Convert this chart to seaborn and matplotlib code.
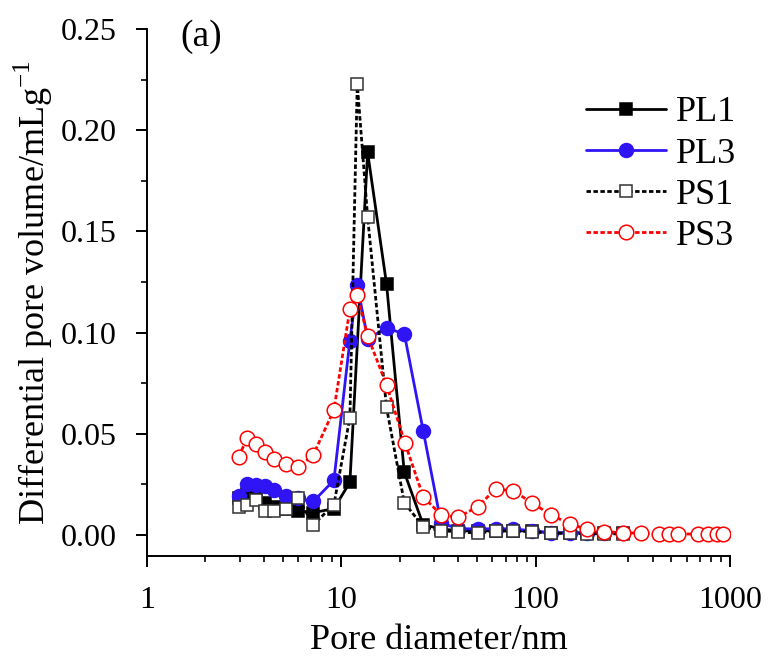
import matplotlib
matplotlib.use("Agg")
import matplotlib.pyplot as plt
import seaborn as sns
import pandas as pd
from matplotlib.ticker import MultipleLocator, LogLocator, NullFormatter, FixedLocator, FixedFormatter

# pore diameter grid (nm)
x_pl1 = [2.97, 3.28, 3.64, 4.05, 4.52, 5.19, 6.01, 7.18, 9.17, 11.08, 13.67, 17.1, 21.1,
         26.4, 32.6, 40.0, 50.4, 62.3, 76.8, 95.4, 119.6, 150.4, 183.3, 225.8, 282.7]
y_pl1 = [0.018, 0.020, 0.019, 0.016, 0.014, 0.013, 0.012, 0.011, 0.013, 0.026, 0.189, 0.124, 0.031,
         0.005, 0.003, 0.002, 0.002, 0.002, 0.002, 0.002, 0.001, 0.001, 0.001, 0.001, 0.001]

x_pl3 = [2.97, 3.28, 3.64, 4.05, 4.52, 5.19, 6.01, 7.18, 9.17, 11.08, 12.09, 13.67, 17.1, 21.1,
         26.4, 32.6, 40.0, 50.4, 62.3, 76.8, 95.4, 119.6, 150.4, 183.3, 225.8, 282.7]
y_pl3 = [0.019, 0.025, 0.0245, 0.024, 0.022, 0.019, 0.018, 0.0165, 0.027, 0.096, 0.1235, 0.097, 0.102, 0.0995,
         0.0515, 0.006, 0.003, 0.003, 0.003, 0.003, 0.002, 0.001, 0.001, 0.001, 0.001, 0.001]

x_ps1 = [2.97, 3.28, 3.64, 4.05, 4.52, 5.19, 6.01, 7.18, 9.17, 11.08, 12.09, 13.67, 17.1, 21.1,
         26.4, 32.6, 40.0, 50.4, 62.3, 76.8, 95.4, 119.6, 150.4, 183.3, 225.8, 282.7]
y_ps1 = [0.014, 0.015, 0.017, 0.012, 0.012, 0.013, 0.018, 0.005, 0.015, 0.058, 0.223, 0.157, 0.063, 0.016,
         0.004, 0.002, 0.0016, 0.0008, 0.002, 0.002, 0.0016, 0.0008, 0.0008, 0.0006, 0.0005, 0.0005]

x_ps3 = [2.97, 3.28, 3.64, 4.05, 4.52, 5.19, 6.01, 7.18, 9.17, 11.08, 12.09, 13.67, 17.1, 21.3,
         26.4, 32.6, 40.0, 50.4, 62.3, 76.8, 95.4, 119.6, 150.4, 183.3, 225.8, 282.7, 348.6,
         431.5, 486, 542, 688, 774, 855, 925]
y_ps3 = [0.0387, 0.0478, 0.0448, 0.0412, 0.0375, 0.0351, 0.0334, 0.0395, 0.0618, 0.1115, 0.1186, 0.0983, 0.0741, 0.0453,
         0.0189, 0.0099, 0.0087, 0.014, 0.0227, 0.0217, 0.016, 0.0099, 0.0054, 0.0028, 0.0016, 0.0011, 0.0008,
         0.0005, 0.0005, 0.0005, 0.0004, 0.0004, 0.0004, 0.0004]

labels = ["PL1", "PL3", "PS1", "PS3"]

sns.set_style("ticks")
plt.rcParams['font.family'] = ['Liberation Serif', 'DejaVu Serif']
plt.rcParams['mathtext.fontset'] = 'custom'
plt.rcParams['mathtext.rm'] = 'Liberation Serif'
for k in ['text.color', 'axes.labelcolor', 'xtick.color', 'ytick.color', 'axes.edgecolor']:
    plt.rcParams[k] = 'black'

fig = plt.figure(figsize=(7.77, 6.65), dpi=100)
ax = fig.add_axes([0.189, 0.164, 0.7505, 0.7925])

blue = '#2f14f5'
dot = (0, (1.6, 0.9))
styles = [
    dict(color='black', marker='s', markersize=8.5, markerfacecolor='black', markeredgecolor='black', linestyle='-', linewidth=2.0),
    dict(color=blue, marker='o', markersize=10, markerfacecolor=blue, markeredgecolor=blue, linestyle='-', linewidth=2.0),
    dict(color='black', marker='s', markersize=8.5, markerfacecolor='white', markeredgecolor='#333333', linestyle=dot, linewidth=2.0),
    dict(color='red', marker='o', markersize=10.5, markerfacecolor='white', markeredgecolor='red', linestyle=dot, linewidth=2.0),
]
series = [(x_pl1, y_pl1), (x_pl3, y_pl3), (x_ps1, y_ps1), (x_ps3, y_ps3)]

for (xs, ys), lab, st in zip(series, labels, styles):
    df = pd.DataFrame({"d": xs, "v": ys})
    sns.lineplot(data=df, x="d", y="v", ax=ax, label=lab, sort=False, estimator=None,
                 markeredgewidth=1.1, **st)

ax.set_xscale('log')
ax.set_xlim(1, 1000)
ax.set_ylim(-0.0104, 0.25)
ax.xaxis.set_major_locator(FixedLocator([1, 10, 100, 1000]))
ax.xaxis.set_major_formatter(FixedFormatter(["1", "10", "100", "1000"]))
ax.xaxis.set_minor_locator(LogLocator(base=10, subs=range(2, 10)))
ax.xaxis.set_minor_formatter(NullFormatter())
ax.yaxis.set_major_locator(MultipleLocator(0.05))
ax.yaxis.set_minor_locator(MultipleLocator(0.025))
ax.yaxis.set_major_formatter(plt.FuncFormatter(lambda v, p: f"{v:.2f}"))

for s in ['top', 'right']:
    ax.spines[s].set_visible(False)
for s in ['left', 'bottom']:
    ax.spines[s].set_linewidth(1.4)
ax.tick_params(which='major', direction='out', length=8, width=1.4, labelsize=23)
ax.tick_params(axis='y', which='major', pad=14)
ax.tick_params(axis='x', which='major', pad=14)
ax.tick_params(which='minor', direction='out', length=4.5, width=1.2)

ax.set_xlabel("Pore diameter/nm", fontsize=26, labelpad=6)
ax.set_ylabel("Differential pore volume/mLg$^{-1}$", fontsize=26, labelpad=4)

fig.text(201 / 777, 1 - 37 / 665, "(a)", fontsize=27, ha='center', va='center')

leg = ax.legend(loc='upper right', bbox_to_anchor=(1.035, 0.90), frameon=False, fontsize=26,
                handlelength=2.2, handletextpad=0.28, labelspacing=0.22, borderaxespad=0)

fig.savefig("out.png", dpi=100)
